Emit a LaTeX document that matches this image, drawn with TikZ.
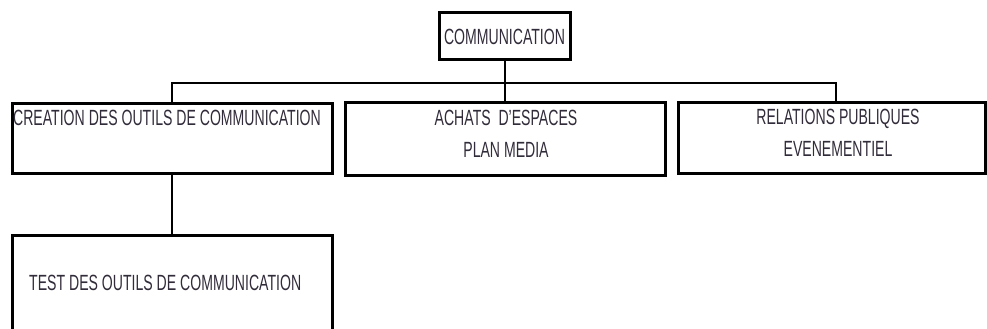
\documentclass[tikz,border=0pt]{standalone}
\usepackage{fontspec}
\setmainfont{Liberation Sans}[FakeStretch=0.64]
\definecolor{txt}{RGB}{50,44,58}
\begin{document}
\begin{tikzpicture}[x=1pt,y=-1pt,
  box/.style={draw=black,line width=3pt,inner sep=0pt,outer sep=0pt,fill=white},
  conn/.style={draw=black,line width=2pt},
  lbl/.style={inner sep=0pt,text=txt,font=\fontsize{22}{26}\selectfont,align=center}]
\useasboundingbox (0,0) rectangle (987,329);
\clip (0,0) rectangle (987,329);
\node[box,minimum width=131pt,minimum height=47pt] (comm) at (504.5,36.5) {};
\node[box,minimum width=320pt,minimum height=70pt] (b1) at (172,138) {};
\node[box,minimum width=320pt,minimum height=73pt] (b2) at (505,138.5) {};
\node[box,minimum width=307pt,minimum height=71pt] (b3) at (831.5,137.5) {};
\node[box,minimum width=320pt,minimum height=110pt] (b4) at (172,290) {};
\coordinate (bus) at (0,83);
\draw[conn] (comm.south) -- (comm.south |- bus);
\draw[conn] (b1.north) -- (b1.north |- bus) -- ([xshift=4pt]b3.north |- bus) -- ([xshift=4pt]b3.north);
\draw[conn] (b2.north) -- (b2.north |- bus);
\draw[conn] (b1.south) -- (b4.north);
\node[lbl] (tcomm) at (comm.center) {COMMUNICATION};
\node[lbl] (t1) at (167,118) {CREATION DES OUTILS DE COMMUNICATION};
\node[lbl] (t2) at (506,134) {ACHATS \ D'ESPACES\\[6pt]PLAN MEDIA};
\node[lbl] (t3) at (838,133) {RELATIONS PUBLIQUES\\[6pt]EVENEMENTIEL};
\node[lbl,anchor=west] (t4) at (29,283) {TEST DES OUTILS DE COMMUNICATION};
\end{tikzpicture}
\end{document}
